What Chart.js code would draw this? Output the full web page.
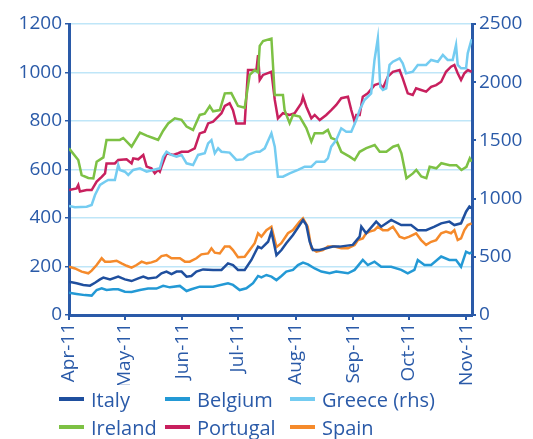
<!DOCTYPE html>
<html>
<head>
<meta charset="utf-8">
<script src="https://cdn.jsdelivr.net/npm/chart.js@4/dist/chart.umd.min.js"></script>
<style>
  body { margin: 0; background: #fff; }
  #wrap { position: relative; width: 533px; height: 439px; }
  #legend { position: absolute; left: 0; top: 0; font-family: "Open Sans", sans-serif; font-size: 20px; color: #2a5aa8; }
  .item { position: absolute; display: flex; align-items: center; white-space: nowrap; height: 26px; }
  .swatch { width: 25px; height: 4px; margin-right: 7px; }
</style>
</head>
<body>
<div id="wrap">
  <canvas id="chart" width="533" height="439"></canvas>
  <div id="legend"></div>
</div>
<script>
// month ticks, in days from 1 Apr 2011
const monthDays = [0, 30, 61, 91, 122, 153, 183, 214];
const monthLabels = ['Apr-11', 'May-11', 'Jun-11', 'Jul-11', 'Aug-11', 'Sep-11', 'Oct-11', 'Nov-11'];

// spreads, bp; x = day since 1 Apr
const italyX = [0,4.1,7.7,11.3,14,16.7,18.5,22.1,26.5,30.1,33.7,37.3,40,42.6,47.1,49.8,52.5,55.2,57.9,60.6,63.3,65.9,68.6,72.2,77.6,82.1,85.6,88.3,91,94.6,98.2,101.8,103.6,107.2,109,111.7,114.4,117,120.6,124.2,126,127.8,129.6,131.3,134.9,138.5,142.1,145.7,152.8,156.5,157.4,160,165.4,168.1,173.5,178.9,184.2,187.8,192.3,196.8,200.4,204.8,207.5,211.1,213.8,215.6,216.8];
const italyY = [137,131,124,121,133,147,154,147,158,147,140,151,158,151,155,172,179,169,179,179,158,161,179,188,186,186,213,206,186,186,227,282,275,302,344,247,268,296,330,371,392,371,302,268,268,275,282,282,289,323,364,337,385,364,392,371,371,350,350,364,378,385,371,378,426,447,440];

const belgiumX = [0,4.1,8.6,12.2,14.9,17.6,20.2,23.8,26.5,30.1,33.7,38.2,42.6,47.1,50.7,54.3,59.7,63.3,65.9,70.4,77.6,85.6,88.3,91.9,95.5,99.1,101.8,103.6,106.3,109,111.7,114.4,117,120.6,123.3,126,128.7,132.3,135.9,140.3,143.9,150.2,153.8,158.2,160.9,164.5,168.1,173.5,178.9,182.4,186,187.8,191.4,195,200.4,204.8,208.4,211.1,213.8,215.6,216.8];
const belgiumY = [92,87,82,80,103,110,103,106,106,96,95,103,109,109,120,114,120,99,106,117,117,131,124,103,110,131,161,155,165,158,144,161,179,186,206,216,209,192,179,172,179,172,186,227,206,220,199,199,186,172,186,227,206,206,241,227,227,199,261,254,258];

const greeceX = [0,3.2,9.5,12.2,14,16.7,19.4,21.1,24.7,26.5,27.4,30.1,31.9,34.6,38.2,41.8,45.3,48.9,50.7,52.5,55.2,57.9,60.6,63.3,66.8,69.5,73.1,74.9,76.7,78.5,80.3,82.1,86.5,90.1,93.7,96.4,100.9,102.7,105.4,109,110.8,112.5,115.2,118.8,123.3,126.9,130.5,133.2,137.6,139.4,141.2,143.9,146.6,149.3,152,154.7,156.5,159.1,162.7,164.5,166.3,167.6,169,170.8,172.6,174.4,178,179.7,181.5,185.1,187.8,192.3,195,198.6,201.3,203.9,206.6,208.4,209.3,211.1,213.8,214.7,216.8];
const greeceY = [936,925,930,945,1031,1117,1145,1160,1160,1289,1246,1231,1203,1246,1260,1231,1246,1260,1360,1403,1375,1360,1375,1303,1289,1375,1389,1475,1503,1389,1432,1403,1395,1332,1337,1375,1403,1403,1432,1561,1446,1188,1188,1217,1246,1274,1274,1317,1317,1346,1446,1503,1604,1575,1575,1675,1761,1847,1904,2191,2377,1961,1933,1947,2148,2176,2205,2162,2076,2090,2148,2148,2191,2176,2234,2191,2191,2320,2148,2119,2119,2248,2370];

const irelandX = [0,5,6.8,10.4,13.1,14.9,18.5,20.2,27.4,29.2,33.7,38.2,41.8,45.3,48,50.7,53.4,57,60.6,63.3,66.8,70.4,73.1,75.8,77.6,81.2,83.9,87.4,91,94.6,97.3,100,101.8,102.7,104.5,109,110.8,113.4,115.2,116.1,118.8,120.6,124.2,127.8,130.5,132.3,136.8,139.4,141.2,143.9,146.6,151.1,153.8,156.5,160.1,164.6,167.3,170.9,174.5,177.2,179,181.7,185.2,187,189.7,192.4,194.2,197.8,200.5,205,208.6,211.3,214,215.8,216.8];
const irelandY = [687,639,577,565,563,632,650,722,722,730,694,752,740,730,722,760,790,811,805,777,763,825,830,862,840,845,914,915,862,855,990,1010,1000,1110,1130,1140,907,907,907,845,791,825,818,771,715,750,750,763,730,722,673,653,639,673,688,701,673,673,694,701,667,564,584,598,571,564,611,605,626,618,618,598,611,646,632];

const portugalX = [0,4.1,5,5.9,9.5,12.2,14.9,17.6,19.4,20.2,24.7,26.5,31,33.7,34.6,37.3,40,41.8,44.4,46.2,48,48.9,49.8,52.5,56.1,58.8,60.6,64.1,67.7,70.4,73.1,74.9,77.6,80.3,82.1,83.9,86.5,88.3,90.1,94.6,96.4,98.2,100.9,101.8,102.7,104.5,109,110.8,112.5,115.2,118.8,121.5,125.1,126,127.8,130.5,132.3,135,138.5,141.2,143.9,146.6,150.2,152,153.8,154.7,156.5,158.2,160.9,164.5,167.2,169,171.7,174.4,178,179.7,182.4,185.1,186.9,189.6,192.3,195,197.7,200.4,203,205.7,207.5,209.3,211.1,212.9,214.7,216.8];
const portugalY = [515,522,536,509,515,515,550,570,584,625,625,639,642,625,646,642,660,612,605,584,598,591,612,667,660,667,673,673,687,749,756,790,797,818,832,862,873,845,790,790,1010,1010,1010,1072,969,990,1003,887,811,832,825,832,873,900,859,811,825,804,825,845,866,894,900,845,797,825,825,900,914,948,955,935,983,1003,1010,976,914,907,935,928,921,941,948,962,1003,1024,1031,997,969,997,1010,1003];

const spainX = [0,3.2,6.8,10.4,12.2,14.9,17.6,19.4,22.1,25.6,28.3,31,33.7,36.4,39.1,41.8,44.4,47.1,49.8,52.5,55.2,59.7,62.4,65,68.6,71.3,74.9,76.7,78.5,81.2,83.9,86.5,88.3,91,94.6,97.3,100,101.8,103.6,106.3,109,111.7,114.3,117.9,120.6,124.2,126,128.5,130.5,133.2,136.7,139.4,143,146.6,150.2,153.8,155.6,158.2,160,161.8,164.5,166.3,169,171.7,174.4,176.2,178,180.6,183.3,186.9,189.6,192.3,195,197.7,200.4,203,205.7,207.5,209.3,211.1,212.9,214.7,216.8];
const spainY = [199,192,179,172,183,206,234,220,220,224,213,203,195,206,220,213,217,224,243,247,234,234,220,220,234,250,254,275,257,254,282,282,268,238,240,268,296,337,323,350,364,280,296,337,350,385,399,364,276,261,268,282,282,275,275,289,309,316,337,344,350,364,350,350,364,344,323,316,323,337,309,289,302,309,337,344,337,350,309,316,350,371,378];

const axisColor = '#2a5aa8';
const gridColor = '#bfe6f8';
const tickFont = { family: 'Open Sans', size: 19 };

function pairs(xs, ys) {
  return xs.map((x, i) => ({ x: x, y: ys[i] }));
}

const series = [
  { label: 'Italy', color: '#1f4f9e', data: pairs(italyX, italyY), axis: 'y' },
  { label: 'Belgium', color: '#2399d5', data: pairs(belgiumX, belgiumY), axis: 'y' },
  { label: 'Greece (rhs)', color: '#74ccf1', data: pairs(greeceX, greeceY), axis: 'y2' },
  { label: 'Ireland', color: '#7dc144', data: pairs(irelandX, irelandY), axis: 'y' },
  { label: 'Portugal', color: '#c8205e', data: pairs(portugalX, portugalY), axis: 'y' },
  { label: 'Spain', color: '#f58a2b', data: pairs(spainX, spainY), axis: 'y' }
];

const datasets = series.map((s) => ({
  label: s.label,
  data: s.data,
  yAxisID: s.axis,
  borderColor: s.color,
  backgroundColor: s.color,
  borderWidth: 2.5,
  pointRadius: 0,
  tension: 0,
  fill: false
}));

new Chart(document.getElementById('chart'), {
  type: 'line',
  data: { datasets: datasets },
  options: {
    responsive: false,
    animation: false,
    layout: { padding: { top: 24, bottom: 54, left: 0, right: 0 } },
    plugins: { legend: { display: false }, tooltip: { enabled: false } },
    scales: {
      x: {
        type: 'linear',
        min: 0,
        max: 217,
        afterBuildTicks: (scale) => { scale.ticks = monthDays.map((v) => ({ value: v })); },
        afterFit: (scale) => { scale.height = 70; },
        ticks: {
          autoSkip: false,
          minRotation: 90,
          maxRotation: 90,
          color: axisColor,
          font: tickFont,
          padding: 3,
          callback: (v) => monthLabels[monthDays.indexOf(v)]
        },
        grid: { drawOnChartArea: false, tickColor: axisColor, tickLength: 5, lineWidth: 2 },
        border: { color: axisColor, width: 3 }
      },
      y: {
        position: 'left',
        min: 0,
        max: 1200,
        afterFit: (scale) => { scale.width = 69; },
        ticks: { stepSize: 200, color: axisColor, font: tickFont, padding: 3, callback: (v) => String(v) },
        grid: { color: gridColor, lineWidth: 1.5, tickColor: axisColor, tickLength: 4 },
        border: { color: axisColor, width: 3 }
      },
      y2: {
        position: 'right',
        min: 0,
        max: 2500,
        afterFit: (scale) => { scale.width = 61; },
        ticks: { stepSize: 500, color: axisColor, font: tickFont, padding: 3, callback: (v) => String(v) },
        grid: { drawOnChartArea: false, tickColor: axisColor, tickLength: 4, lineWidth: 2 },
        border: { color: axisColor, width: 3 }
      }
    }
  }
});

// legend laid out in three columns, two rows like the original
const legendCols = [59, 165, 290];
const legendRows = [386, 414];
const legend = document.getElementById('legend');
series.forEach((s, i) => {
  const item = document.createElement('div');
  item.className = 'item';
  item.style.left = legendCols[i % 3] + 'px';
  item.style.top = legendRows[Math.floor(i / 3)] + 'px';
  item.innerHTML = '<span class="swatch" style="background:' + s.color + '"></span><span>' + s.label + '</span>';
  legend.appendChild(item);
});
</script>
</body>
</html>
